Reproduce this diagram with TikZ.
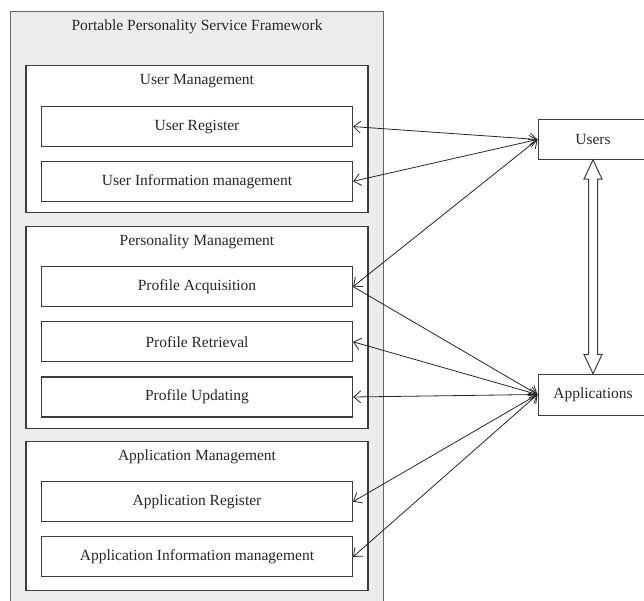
\documentclass[tikz,border=0pt]{standalone}
\usepackage{fontspec}
\setmainfont{Liberation Serif}
\usetikzlibrary{positioning,shapes.arrows,arrows.meta,calc}
\definecolor{framegray}{HTML}{ECECEC}
\definecolor{linegray}{HTML}{3C3C3C}

\begin{document}
\begin{tikzpicture}[x=1pt, y=-1pt,
	every node/.style={font=\fontsize{15.5}{18}\selectfont, text=black!85},
	frame/.style={draw=black!60, line width=1.2pt, fill=framegray, minimum width=373pt, minimum height=640pt, inner sep=0pt},
	group/.style={draw=linegray, line width=1.2pt, fill=white, minimum width=342pt, inner sep=0pt},
	subbox/.style={draw=linegray, line width=1.2pt, fill=white, minimum width=311pt, minimum height=40pt, inner sep=0pt},
	actor/.style={draw=linegray, line width=1pt, fill=white, minimum width=110pt, minimum height=40pt, inner sep=0pt},
	link/.style={{Straight Barb[length=7pt, width=12pt]}-{Straight Barb[length=7pt, width=12pt]}, line width=0.8pt, draw=black!85},
	onelink/.style={-{Straight Barb[length=7pt, width=12pt]}, line width=0.8pt, draw=black!85},
	dblarrow/.style={double arrow, draw=linegray, line width=1pt, fill=white, shape border rotate=90, inner sep=4pt, double arrow head extend=4.5pt, double arrow tip angle=50}]
	\useasboundingbox (0,0) rectangle (644,601);
	
	\node[frame, anchor=north west] (frame) at (10,11) {};
	\node (frame-t) at ($(frame.north)+(0,16)$) {Portable Personality Service Framework};
	
	\node[group, minimum height=147pt, anchor=north] (umgmt) at (197,65) {};
	\node (umgmt-t) at ($(umgmt.north)+(0,16.5)$) {User Management};
	\node[subbox, below=41pt of umgmt.north] (ureg) {User Register};
	\node[subbox, below=13.5pt of ureg] (uinfo) {User Information management};
	
	\node[group, minimum height=202pt, anchor=north] (pmgmt) at (197,226) {};
	\node (pmgmt-t) at ($(pmgmt.north)+(0,16)$) {Personality Management};
	\node[subbox, below=40pt of pmgmt.north] (pacq) {Profile Acquisition};
	\node[subbox, below=14pt of pacq] (pret) {Profile Retrieval};
	\node[subbox, below=14pt of pret] (pupd) {Profile Updating};
	
	\node[group, minimum height=149pt, anchor=north] (amgmt) at (197,441) {};
	\node (amgmt-t) at ($(amgmt.north)+(0,16)$) {Application Management};
	\node[subbox, below=40pt of amgmt.north] (areg) {Application Register};
	\node[subbox, below=14pt of areg] (ainfo) {Application Information management};
	
	\node[actor] (users) at (593,139.5) {Users};
	\node[actor, minimum height=41pt] (apps) at (593,394.5) {Applications};
	
	\node[dblarrow, minimum height=214pt] (ua) at ($(users.south)!0.5!(apps.north)$) {};
	
	\draw[link] (ureg.east) -- (users.west);
	\draw[link] (uinfo.east) -- (users.west);
	\draw[link] (pacq.east) -- (users.west);
	\draw[onelink] (pacq.east) -- (apps.west);
	\draw[link] (pret.east) -- (apps.west);
	\draw[link] (pupd.east) -- (apps.west);
	\draw[link] (areg.east) -- (apps.west);
	\draw[link] (ainfo.east) -- (apps.west);
\end{tikzpicture}
\end{document}
